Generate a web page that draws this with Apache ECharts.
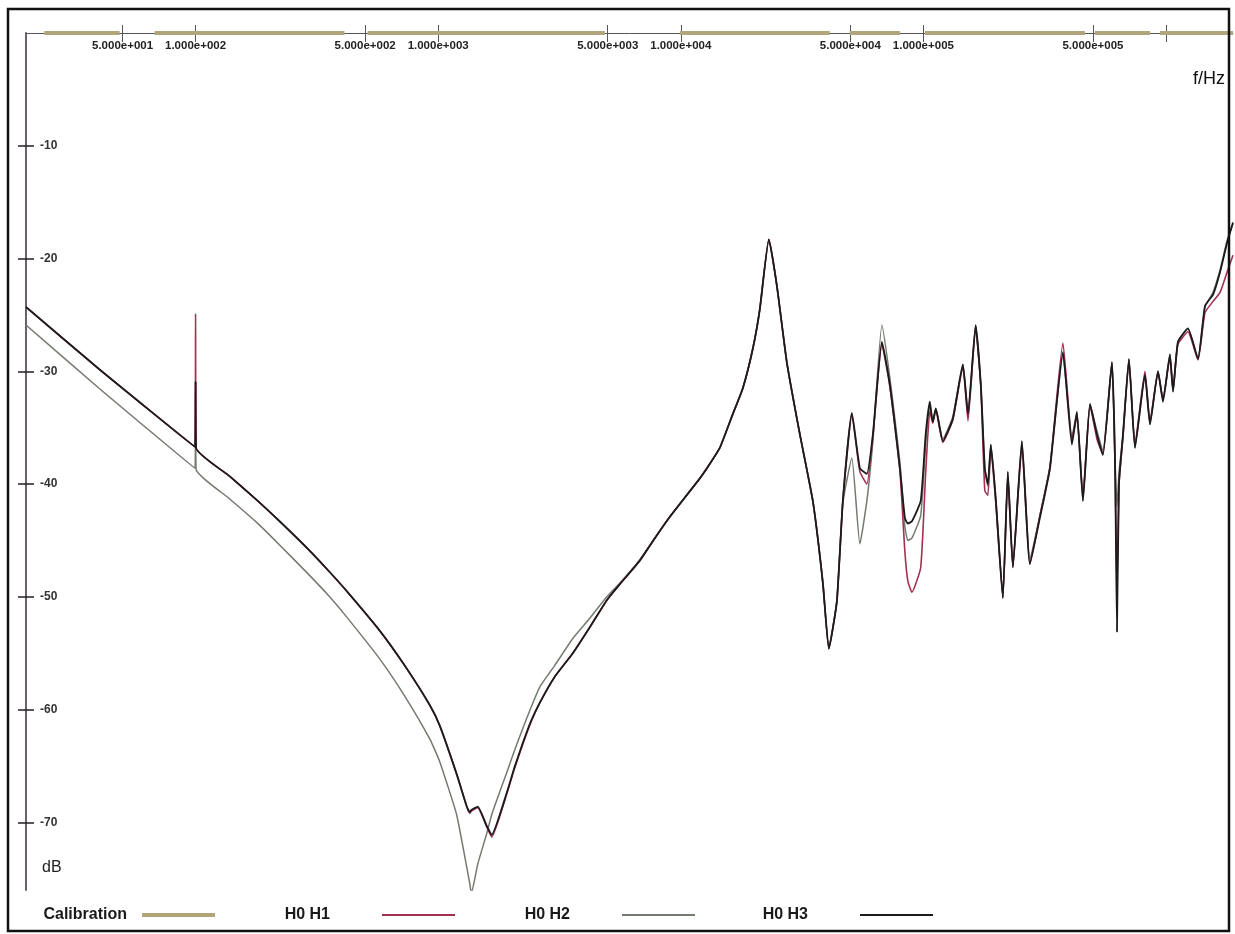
<!DOCTYPE html>
<html><head><meta charset="utf-8">
<script src="https://cdn.jsdelivr.net/npm/echarts@6/dist/echarts.min.js"></script>
<style>html,body{margin:0;padding:0;background:#fff}#c{width:1235px;height:934px}</style>
</head><body><div id="c"></div>
<script>
// ---- data (frequency in Hz, levels in dB) ----
const freqHz = [20,40,99.5,100,100.5,138,178.5,222,295,357,420,574,728,923,1014,1191,1312,1349,1370,1456,1585,1663,1916,2065,2230,2404,2622,3020,3589,4217,4955,5598,6776,7818,9016,11980,13180,14480,16380,18020,19810,21170,23070,24890,27360,30970,35020,38530,40770,43990,46560,50720,54720,58480,61920,67450,72780,80000,83900,86300,89700,97500,102200,106300,109300,112500,120300,132300,145500,152700,164200,172500,179100,184400,189700,199000,212600,222900,233800,254700,274800,302100,332500,376000,409500,429400,454600,486100,519300,549600,598700,616600,628000,640000,665000,703500,745000,819000,859000,927000,972000,1038000,1069000,1120000,1232000,1355000,1448000,1563000,1671000,1786000,1889000];
const h3Db = [-24.3,-29.8,-36.7,-30.9,-36.8,-39.3,-41.4,-43.3,-45.9,-47.8,-49.5,-53.0,-56.1,-59.6,-61.4,-65.7,-68.6,-69.1,-68.9,-68.6,-70.3,-71.1,-67.4,-65.1,-63.0,-61.1,-59.4,-57.1,-55.0,-52.7,-50.3,-48.9,-46.8,-44.8,-42.9,-39.5,-38.2,-36.8,-33.8,-31.5,-28.0,-24.5,-18.3,-22.4,-29.2,-35.6,-41.5,-48.8,-54.6,-50.4,-41.5,-33.7,-38.6,-39.1,-35.6,-27.4,-31.2,-38.6,-43.0,-43.5,-43.3,-41.5,-35.6,-32.7,-34.5,-33.3,-36.2,-34.2,-29.4,-33.8,-25.9,-31.2,-38.6,-40.0,-36.5,-41.5,-50.1,-38.9,-47.4,-36.2,-47.1,-43.0,-38.6,-28.3,-36.5,-33.6,-41.5,-32.9,-35.6,-37.4,-29.2,-38.0,-53.1,-40.0,-35.6,-28.9,-36.8,-30.3,-34.7,-30.0,-32.7,-28.5,-31.8,-27.4,-26.2,-28.9,-24.2,-23.2,-21.2,-18.6,-16.8];
const h1Db = [-24.3,-29.8,-36.7,-24.9,-36.8,-39.3,-41.4,-43.3,-45.9,-47.8,-49.5,-53.0,-56.1,-59.6,-61.4,-65.7,-68.6,-69.2,-69.0,-68.7,-70.4,-71.3,-67.5,-65.2,-63.1,-61.2,-59.4,-57.1,-55.0,-52.7,-50.3,-48.9,-46.8,-44.8,-42.9,-39.5,-38.2,-36.8,-33.8,-31.5,-28.0,-24.5,-18.3,-22.4,-29.2,-35.6,-41.5,-48.8,-54.6,-50.4,-41.5,-33.8,-38.9,-40.0,-35.8,-27.6,-31.4,-38.8,-46.0,-48.6,-49.6,-47.4,-39.0,-33.5,-34.6,-33.4,-36.3,-34.3,-29.6,-34.4,-26.0,-31.4,-40.6,-41.0,-36.8,-41.8,-50.1,-39.3,-47.4,-36.6,-47.1,-42.8,-38.5,-27.5,-36.0,-34.0,-41.0,-33.0,-36.0,-37.4,-29.2,-38.5,-49.4,-40.0,-35.8,-29.0,-36.5,-30.0,-34.5,-30.0,-32.5,-28.8,-31.6,-27.6,-26.5,-29.0,-24.8,-23.8,-23.0,-21.2,-19.7];
const h2Db = [-25.9,-31.5,-38.6,-31.0,-38.7,-41.3,-43.4,-45.4,-48.1,-50.0,-51.8,-55.5,-58.8,-62.6,-64.6,-69.3,-74.0,-75.4,-76.3,-73.7,-71.0,-69.3,-65.6,-63.6,-61.7,-59.9,-58.0,-56.1,-53.7,-51.9,-50.0,-48.8,-46.7,-44.8,-42.9,-39.5,-38.2,-36.8,-33.8,-31.5,-28.0,-24.5,-18.3,-22.4,-29.2,-35.6,-41.5,-48.8,-54.6,-50.4,-41.7,-37.7,-45.3,-41.5,-36.2,-25.9,-30.6,-38.0,-43.8,-45.0,-44.8,-42.8,-36.5,-33.0,-34.5,-33.3,-36.0,-34.0,-29.4,-33.8,-25.9,-31.2,-38.6,-40.2,-36.5,-41.3,-50.0,-38.9,-47.2,-36.2,-46.6,-42.8,-38.4,-28.6,-35.8,-33.6,-41.5,-32.9,-35.3,-37.0,-29.2,-38.0,-42.0,-39.0,-35.6,-28.9,-36.8,-30.3,-34.7,-30.0,-32.5,-28.5,-31.8,-27.4,-26.2,-28.9,-24.3,-23.0,-21.0,-18.4,-16.9];
const calFreqHz = [23.8,48.6,58,67.8,411,460,512,4863,7000,9910,41100,45000,49700,80000,90000,101400,463000,490000,509500,859000,900000,944000,1889000];
const calDb = [0,0,null,0,0,null,0,0,null,0,0,null,0,0,null,0,0,null,0,0,null,0,0];
const xTickHz = [50,100,500,1000,5000,10000,50000,100000,500000,1000000];
const xTickLabels = ['5.000e+001','1.000e+002','5.000e+002','1.000e+003','5.000e+003','1.000e+004','5.000e+004','1.000e+005','5.000e+005',''];
const yTicks = [-70,-60,-50,-40,-30,-20,-10];
const xMinHz = 20, xMaxHz = 1889000, yMin = -76, yMax = 0;

// ---- build ----
const lg = Math.log10;
const pair = (fs, ds) => fs.map((f, i) => [lg(f), ds[i] == null ? '-' : ds[i]]);
const xTickLog = xTickHz.map(lg);
const fmtX = v => { const i = xTickLog.findIndex(t => Math.abs(t - v) < 1e-6); return i < 0 ? '' : xTickLabels[i]; };
const FB = "'Liberation Sans',Arial,sans-serif";

const chart = echarts.init(document.getElementById('c'), null, {renderer: 'canvas'});
const lineSer = (name, data, color, w, z) => ({
  name, type: 'line', data, symbol: 'none', showSymbol: false, smooth: 0.15,
  lineStyle: {color, width: w}, itemStyle: {color}, z, animation: false
});
const legendItem = (name, iconLeft, padR, h) => ({
  data: [name], right: 1235 - (iconLeft + 73), top: 907, align: 'right', orient: 'horizontal',
  padding: 0, icon: 'rect', itemWidth: 73, itemHeight: h, selectedMode: false,
  textStyle: {fontFamily: FB, fontSize: 16, fontWeight: 'bold', color: '#1a1a1a', padding: [0, padR, 0, 0]}
});

chart.setOption({
  animation: false,
  backgroundColor: '#fff',
  grid: {left: 26, right: 2, top: 33, bottom: 44, containLabel: false},
  xAxis: [{
    type: 'value', position: 'top', min: lg(xMinHz), max: lg(xMaxHz),
    name: 'f/Hz', nameLocation: 'end', nameGap: -8,
    nameTextStyle: {fontFamily: FB, fontSize: 18, color: '#111', align: 'right', verticalAlign: 'top', padding: [37, 0, 0, 0]},
    axisLine: {show: true, lineStyle: {color: '#555', width: 1}},
    axisTick: {show: true, inside: true, length: 9, customValues: xTickLog, lineStyle: {color: '#555', width: 1}},
    axisLabel: {show: true, inside: true, margin: 7, customValues: xTickLog, formatter: fmtX,
      showMinLabel: true, showMaxLabel: true, hideOverlap: false, interval: 0,
      fontFamily: FB, fontSize: 11.5, fontWeight: 'bold', color: '#222'},
    splitLine: {show: false}
  }, {
    type: 'value', position: 'top', min: lg(xMinHz), max: lg(xMaxHz),
    axisLine: {show: false},
    axisTick: {show: true, inside: false, length: 8, customValues: xTickLog, lineStyle: {color: '#555', width: 1}},
    axisLabel: {show: false}, splitLine: {show: false}
  }],
  yAxis: [{
    type: 'value', position: 'left', min: yMin, max: yMax,
    name: 'dB', nameLocation: 'start', nameGap: -30,
    nameTextStyle: {fontFamily: FB, fontSize: 16, color: '#222', align: 'left', padding: [0, 0, 0, 16]},
    axisLine: {show: true, lineStyle: {color: '#6e5f6e', width: 2}},
    axisTick: {show: true, inside: true, length: 8, customValues: yTicks, lineStyle: {color: '#222', width: 1.5}},
    axisLabel: {show: true, inside: true, margin: 14, customValues: yTicks,
      showMinLabel: true, showMaxLabel: true, hideOverlap: false,
      fontFamily: FB, fontSize: 12, fontWeight: 'bold', color: '#333'},
    splitLine: {show: false}
  }, {
    type: 'value', position: 'left', min: yMin, max: yMax,
    axisLine: {show: false},
    axisTick: {show: true, inside: false, length: 8, customValues: yTicks, lineStyle: {color: '#222', width: 1.5}},
    axisLabel: {show: false}, splitLine: {show: false}
  }],
  legend: [
    legendItem('Calibration', 142, 10, 4),
    legendItem('H0 H1', 382, 47, 2),
    legendItem('H0 H2', 622, 47, 2),
    legendItem('H0 H3', 860, 47, 2)
  ],
  graphic: [{
    type: 'rect', shape: {x: 8, y: 9, width: 1221, height: 922}, silent: true, z: 100,
    style: {fill: 'none', stroke: '#111', lineWidth: 2.5}
  }],
  series: [
    Object.assign(lineSer('Calibration', pair(calFreqHz, calDb), '#b3a57a', 4, 3), {clip: false, connectNulls: false, smooth: false}),
    lineSer('H0 H2', pair(freqHz, h2Db), '#737a70', 1.5, 4),
    lineSer('H0 H1', pair(freqHz, h1Db), '#a3304f', 1.6, 5),
    lineSer('H0 H3', pair(freqHz, h3Db), '#1b1b1b', 1.8, 6)
  ]
});
</script></body></html>
